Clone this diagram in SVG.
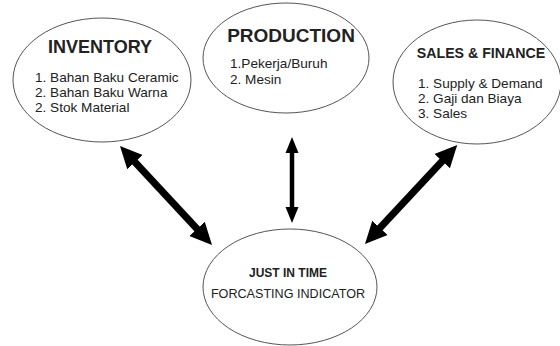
<svg xmlns="http://www.w3.org/2000/svg" width="560" height="346" viewBox="0 0 560 346">
<defs>
<style>
.node ellipse{fill:#fff;stroke:#555;stroke-width:1}
.t{font-family:"Liberation Sans",Arial,sans-serif;fill:#222}
.l{font-size:13.6px}
.h{font-weight:bold}
.conn line{stroke:#000}
</style>
<marker id="big" viewBox="0 -11 24 22" markerWidth="24" markerHeight="22" refX="7" refY="0" markerUnits="userSpaceOnUse" orient="auto-start-reverse">
<path d="M0,-10.5 L22,0 L0,10.5 z" fill="#000"/>
</marker>
<marker id="small" viewBox="0 -8 18 16" markerWidth="18" markerHeight="16" refX="6" refY="0" markerUnits="userSpaceOnUse" orient="auto-start-reverse">
<path d="M0,-6.5 L16,0 L0,6.5 z" fill="#000"/>
</marker>
</defs>
<rect width="560" height="346" fill="#fff"/>
<g id="inventory" class="node">
<ellipse cx="102" cy="80" rx="89" ry="62"/>
<text class="t h" x="100" y="53" font-size="18" text-anchor="middle">INVENTORY</text>
<text class="t l" x="35" y="82">1. Bahan Baku Ceramic</text>
<text class="t l" x="35" y="97">2. Bahan Baku Warna</text>
<text class="t l" x="35" y="112">2. Stok Material</text>
</g>
<g id="production" class="node">
<ellipse cx="286" cy="58" rx="83" ry="55"/>
<text class="t h" x="291" y="42" font-size="19" text-anchor="middle">PRODUCTION</text>
<text class="t l" x="230" y="68">1.Pekerja/Buruh</text>
<text class="t l" x="230" y="84">2. Mesin</text>
</g>
<g id="sales" class="node">
<ellipse cx="477" cy="82" rx="84" ry="62"/>
<text class="t h" x="481" y="58" font-size="14.2" text-anchor="middle">SALES &amp; FINANCE</text>
<text class="t l" x="418" y="88">1. Supply &amp; Demand</text>
<text class="t l" x="418" y="103">2. Gaji dan Biaya</text>
<text class="t l" x="418" y="118">3. Sales</text>
</g>
<g id="jit" class="node">
<ellipse cx="290" cy="287" rx="87" ry="58"/>
<text class="t h" x="288" y="277" font-size="12" text-anchor="middle">JUST IN TIME</text>
<text class="t" x="288" y="298" font-size="12.6" text-anchor="middle">FORCASTING INDICATOR</text>
</g>
<g id="connectors" class="conn">
<line x1="130.2" y1="157" x2="201.8" y2="234" stroke-width="7" marker-start="url(#big)" marker-end="url(#big)"/>
<line x1="292" y1="147" x2="292" y2="213" stroke-width="4.5" marker-start="url(#small)" marker-end="url(#small)"/>
<line x1="447" y1="156" x2="375.2" y2="233" stroke-width="7" marker-start="url(#big)" marker-end="url(#big)"/>
</g>
</svg>
